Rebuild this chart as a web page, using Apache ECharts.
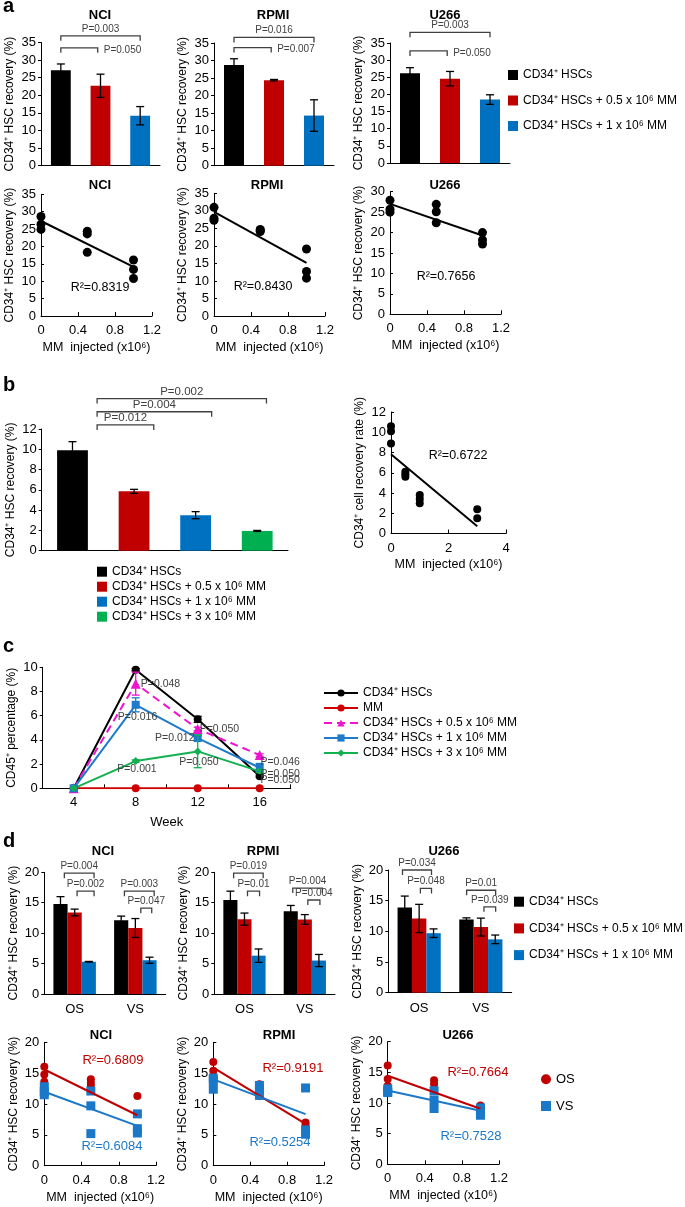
<!DOCTYPE html>
<html>
<head>
<meta charset="utf-8">
<script src="https://cdn.jsdelivr.net/npm/echarts@6/dist/echarts.min.js"></script>
<style>
html, body { margin: 0; padding: 0; background: #fff; }
#chart { width: 685px; height: 1207px; }
</style>
</head>
<body>
<div id="chart"></div>
<script>
// ---- data ----
const groupNames = ['CD34⁺ HSCs', 'CD34⁺ HSCs + 0.5 x 10⁶ MM', 'CD34⁺ HSCs + 1 x 10⁶ MM', 'CD34⁺ HSCs + 3 x 10⁶ MM']
const groupColors = ['#000000', '#C00000', '#0070C0', '#00B050']
const cellLines = ['NCI', 'RPMI', 'U266']

// a: bar means / errors per cell line
const aMeans = [[27.1, 22.7, 14.2], [28.7, 24.4, 14.3], [26.2, 24.6, 18.5]]
const aErrors = [[1.8, 3.3, 2.6], [1.8, 0.2, 4.5], [1.6, 2.1, 1.4]]
// [from, to, level, text, side]
const aBrackets = [
  [[0, 2, 36.9, 'P=0.003', 'up'], [0, 0.93, 33.5, 'P=0.050', 'right']],
  [[0, 2, 36.6, 'P=0.016', 'up'], [0, 0.93, 33.7, 'P=0.007', 'right']],
  [[0, 2, 38.1, 'P=0.003', 'up'], [0, 0.93, 32.7, 'P=0.050', 'right']]
]
// a: scatter
const aDoses = [0, 0, 0, 0.5, 0.5, 0.5, 1, 1, 1]
const aRecovery = [
  [28.6, 26.4, 24.9, 24.4, 23.6, 18.3, 16.1, 13.4, 10.8],
  [31.0, 27.9, 27.3, 24.7, 24.4, 24.1, 19.1, 12.7, 10.8],
  [27.9, 25.7, 25.0, 26.9, 25.1, 22.4, 20.0, 18.2, 17.2]
]
const aR2 = ['R²=0.8319', 'R²=0.8430', 'R²=0.7656']

// b
const bMeans = [9.9, 5.85, 3.5, 1.95]
const bErrors = [0.85, 0.2, 0.35, 0.05]
const bBrackets = [[0.4, 1.32, 12.4, 'P=0.012', 'up'], [0.4, 2.26, 13.7, 'P=0.004', 'up'], [0.4, 3.15, 15.0, 'P=0.002', 'up']]
const bDoses = [0, 0, 0, 0.5, 0.5, 0.5, 1, 1, 1, 3, 3]
const bRate = [10.6, 10.1, 8.9, 6.1, 5.85, 5.6, 3.8, 3.4, 3.0, 2.4, 1.5]
const bR2 = 'R²=0.6722'

// c
const weeks = ['4', '8', '12', '16']
const cNames = ['CD34⁺ HSCs', 'MM', 'CD34⁺ HSCs + 0.5 x 10⁶ MM', 'CD34⁺ HSCs + 1 x 10⁶ MM', 'CD34⁺ HSCs + 3 x 10⁶ MM']
const cColors = ['#000000', '#D00000', '#F013D0', '#1E7BCB', '#13B050']
const cSymbols = ['circle', 'circle', 'triangle', 'rect', 'diamond']
const cValues = [
  [0, 9.8, 5.7, 1.0],
  [0, 0, 0, 0],
  [0, 8.65, 4.9, 2.75],
  [0, 6.9, 4.15, 1.7],
  [0, 2.25, 3.05, 1.4]
]
const cErrors = [
  [0, 0.1, 0.25, 0.1],
  [0, 0, 0, 0],
  [0, 0.95, 0.15, 0.1],
  [0, 0.58, 0.2, 0.35],
  [0, 0.1, 1.35, 0.1]
]
// [week position, level, text]
const cNotes = [
  [1.40, 8.62, 'P=0.048'], [1.03, 5.89, 'P=0.016'], [2.35, 4.9, 'P=0.050'], [1.63, 4.16, 'P=0.012'],
  [3.33, 2.17, 'P=0.046'], [3.33, 1.18, 'P=0.050'], [1.02, 1.6, 'P=0.001'], [2.02, 2.17, 'P=0.050'],
  [3.33, 0.7, 'P=0.050']
]

// d
const sites = ['OS', 'VS']
// dMeans[cell][group] -> [OS, VS]
const dMeans = [
  [[14.8, 12.1], [13.4, 10.85], [5.3, 5.55]],
  [[15.45, 13.6], [12.3, 12.25], [6.3, 5.5]],
  [[13.9, 11.95], [12.1, 10.7], [9.7, 8.7]]
]
const dErrors = [
  [[1.2, 0.7], [0.55, 1.55], [0.05, 0.5]],
  [[1.45, 0.95], [1.0, 0.8], [1.1, 1.0]],
  [[1.85, 0.25], [2.3, 1.45], [0.7, 0.7]]
]
const dBrackets = [
  [[-0.17, 0.32, 19.85, 'P=0.004', 'up'], [0.04, 0.32, 16.9, 'P=0.002', 'up'], [0.82, 1.31, 16.9, 'P=0.003', 'up'], [1.09, 1.27, 14.1, 'P=0.047', 'up']],
  [[-0.18, 0.31, 19.85, 'P=0.019', 'up'], [0.05, 0.25, 16.9, 'P=0.01', 'up'], [0.8, 1.29, 17.4, 'P=0.004', 'up'], [1.05, 1.25, 15.45, 'P=0.004', 'up']],
  [[-0.27, 0.2, 20.0, 'P=0.034', 'up'], [0.02, 0.2, 17.0, 'P=0.048', 'up'], [0.77, 1.24, 16.7, 'P=0.01', 'up'], [1.05, 1.24, 14.0, 'P=0.039', 'up']]
]
const dDoses = [0, 0, 0, 0.5, 0.5, 0.5, 1, 1, 1]
const dOS = [
  [16.05, 14.8, 13.6, 14.0, 13.4, 12.9, 11.3, 5.6, 5.3],
  [16.8, 15.4, 14.1, 13.2, 12.3, 11.3, 7.0, 6.6, 5.4],
  [16.1, 13.9, 12.8, 13.7, 13.1, 9.6, 9.6, 8.8, 8.2]
]
const dVS = [
  [12.8, 12.0, 11.5, 12.1, 9.7, 5.2, 8.4, 6.0, 5.3],
  [14.2, 13.8, 12.4, 13.0, 12.3, 11.4, 12.6, 5.8, 5.1],
  [12.3, 11.9, 11.7, 12.0, 10.5, 9.1, 9.2, 8.8, 8.0]
]
const dR2OS = ['R²=0.6809', 'R²=0.9191', 'R²=0.7664']
const dR2VS = ['R²=0.6084', 'R²=0.5254', 'R²=0.7528']
const osColor = '#C00000'
const vsColor = '#1B78C8'

// ---- helpers ----
const font = '"Liberation Sans", Arial, sans-serif'
const ink = '#000'
const noteInk = '#404040'
const grids = [], xAxes = [], yAxes = [], series = [], graphics = []

function addGrid(rect, xAxis, yAxis) {
  const i = grids.length
  grids.push({ left: rect[0], top: rect[1], width: rect[2], height: rect[3] })
  xAxes.push(Object.assign({ gridIndex: i }, xAxis))
  yAxes.push(Object.assign({ gridIndex: i }, yAxis))
  return i
}

function yValue(min, max, interval, name, inside) {
  return {
    type: 'value', min: min, max: max, interval: interval,
    name: name, nameLocation: 'middle', nameGap: 25,
    nameTextStyle: { fontSize: 12, color: ink },
    axisLine: { show: true, lineStyle: { color: ink, width: 1 } },
    axisTick: { show: true, inside: !!inside, length: 3, lineStyle: { color: ink } },
    axisLabel: { fontSize: 13, color: ink, margin: 5 },
    splitLine: { show: false }
  }
}

function xDose(max, interval) {
  return {
    type: 'value', min: 0, max: max, interval: interval,
    name: 'MM  injected (x10⁶)', nameLocation: 'middle', nameGap: 25,
    nameTextStyle: { fontSize: 12.5, color: ink },
    axisLine: { show: true, lineStyle: { color: ink, width: 1 } },
    axisTick: { show: true, inside: true, length: 4, lineStyle: { color: ink } },
    axisLabel: { fontSize: 13, color: ink, margin: 8 },
    splitLine: { show: false }
  }
}

function xCat(data, showLabels) {
  return {
    type: 'category', data: data,
    axisLine: { show: true, lineStyle: { color: ink, width: 1 } },
    axisTick: { show: false },
    axisLabel: { show: showLabels, fontSize: 13, color: ink, margin: 9 }
  }
}

// x pixel for a fractional category position
function catX(api, c) {
  const r = Math.round(c)
  return api.coord([r, 0])[0] + (c - r) * api.size([1, 0])[0]
}

function errorSeries(g, means, errs, offset, color) {
  return {
    type: 'custom', xAxisIndex: g, yAxisIndex: g, silent: true, z: 5,
    data: means.map((v, i) => [i, v, errs[i]]),
    renderItem(params, api) {
      const i = api.value(0), v = api.value(1), e = api.value(2)
      if (!e) return null
      const x = catX(api, i + offset)
      const top = api.coord([i, v + e])[1]
      const bot = api.coord([i, v - e])[1]
      const st = { stroke: color, lineWidth: 1.3 }
      return {
        type: 'group', children: [
          { type: 'line', shape: { x1: x, y1: top, x2: x, y2: bot }, style: st },
          { type: 'line', shape: { x1: x - 4, y1: top, x2: x + 4, y2: top }, style: st },
          { type: 'line', shape: { x1: x - 4, y1: bot, x2: x + 4, y2: bot }, style: st }
        ]
      }
    }
  }
}

function bracketSeries(g, list, size) {
  return {
    type: 'custom', xAxisIndex: g, yAxisIndex: g, silent: true, clip: false, z: 6,
    data: list.map(b => [Math.round(b[0]), b[2]]),
    renderItem(params, api) {
      const b = list[params.dataIndex]
      const x1 = catX(api, b[0]), x2 = catX(api, b[1])
      const y = api.coord([0, b[2]])[1]
      const right = b[4] === 'right'
      return {
        type: 'group', children: [
          { type: 'polyline', shape: { points: [[x1, y + 5], [x1, y], [x2, y], [x2, y + 5]] },
            style: { stroke: noteInk, lineWidth: 1.3, fill: 'none' } },
          { type: 'text', x: right ? x2 + 6 : (x1 + x2) / 2, y: right ? y + 2 : y - 7,
            style: { text: b[3], fill: noteInk, font: size + 'px ' + font,
              align: right ? 'left' : 'center', textAlign: right ? 'left' : 'center',
              verticalAlign: 'middle', textVerticalAlign: 'middle' } }
        ]
      }
    }
  }
}

function noteSeries(g, list, size) {
  return {
    type: 'custom', xAxisIndex: g, yAxisIndex: g, silent: true, clip: false, z: 7,
    data: list.map(n => [Math.round(n[0]), n[1]]),
    renderItem(params, api) {
      const n = list[params.dataIndex]
      return {
        type: 'text', x: catX(api, n[0]), y: api.coord([0, n[1]])[1],
        style: { text: n[2], fill: noteInk, font: size + 'px ' + font,
          align: 'center', textAlign: 'center', verticalAlign: 'middle', textVerticalAlign: 'middle' }
      }
    }
  }
}

function fitLine(xs, ys) {
  const n = xs.length
  const mx = xs.reduce((a, b) => a + b, 0) / n
  const my = ys.reduce((a, b) => a + b, 0) / n
  let sxy = 0, sxx = 0
  xs.forEach((x, i) => { sxy += (x - mx) * (ys[i] - my); sxx += (x - mx) * (x - mx) })
  const k = sxy / sxx
  const x1 = Math.max.apply(null, xs)
  return [[0, my - k * mx], [x1, my + k * (x1 - mx)]]
}

function text(str, x, y, opts) {
  opts = opts || {}
  graphics.push({
    type: 'text', x: x, y: y, silent: true,
    style: {
      text: str, fill: opts.color || ink,
      font: (opts.bold ? 'bold ' : '') + (opts.size || 13) + 'px ' + font,
      align: opts.align || 'center', textAlign: opts.align || 'center',
      verticalAlign: 'middle', textVerticalAlign: 'middle'
    }
  })
}

// ---- panel a ----
const aBarRects = [[41, 42.5, 119, 123.2], [214, 43, 120, 122.7], [390, 43, 120, 120]]
const aTitleX = [100, 273, 445]
cellLines.forEach((line, k) => {
  const g = addGrid(aBarRects[k], xCat(groupNames.slice(0, 3), false), yValue(0, 35, 5, 'CD34⁺ HSC recovery (%)'))
  for (let s = 0; s < 3; s++) {
    series.push({
      type: 'bar', name: groupNames[s], xAxisIndex: g, yAxisIndex: g,
      barWidth: '50%', barGap: '-100%',
      data: aMeans[k].map((v, i) => (i === s ? v : '-')),
      itemStyle: { color: groupColors[s] }
    })
  }
  series.push(errorSeries(g, aMeans[k], aErrors[k], 0, ink))
  series.push(bracketSeries(g, aBrackets[k], 10))
  text(line, aTitleX[k], 15, { bold: true })
})

const aScRects = [[41, 194.3, 111, 121.7], [214, 193.3, 111, 122.7], [390, 191.7, 111, 122.6]]
const aScMax = [35, 35, 30]
const aScTitleX = [100, 267, 445]
const aR2Pos = [[100, 288], [263, 287], [446, 277]]
cellLines.forEach((line, k) => {
  const g = addGrid(aScRects[k], xDose(1.2, 0.4), yValue(0, aScMax[k], 5, 'CD34⁺ HSC recovery (%)', true))
  series.push({
    type: 'scatter', xAxisIndex: g, yAxisIndex: g, symbol: 'circle', symbolSize: 9,
    itemStyle: { color: ink, opacity: 1 }, data: aDoses.map((x, i) => [x, aRecovery[k][i]])
  })
  series.push({
    type: 'line', xAxisIndex: g, yAxisIndex: g, symbol: 'none', silent: true, z: 3,
    lineStyle: { color: ink, width: 2 }, data: fitLine(aDoses, aRecovery[k])
  })
  text(line, aScTitleX[k], 185, { bold: true })
  text(aR2[k], aR2Pos[k][0], aR2Pos[k][1], { size: 12.5 })
})

// ---- panel b ----
const gb = addGrid([41.7, 429, 246.3, 121.7], xCat(groupNames, false), yValue(0, 12, 2, 'CD34⁺ HSC recovery (%)'))
for (let s = 0; s < 4; s++) {
  series.push({
    type: 'bar', name: groupNames[s], xAxisIndex: gb, yAxisIndex: gb,
    barWidth: '50%', barGap: '-100%',
    data: bMeans.map((v, i) => (i === s ? v : '-')),
    itemStyle: { color: groupColors[s] }
  })
}
series.push(errorSeries(gb, bMeans, bErrors, 0, ink))
series.push(bracketSeries(gb, bBrackets, 11.5))

const gbs = addGrid([391, 412, 115, 121.5], xDose(4, 2), yValue(0, 12, 2, 'CD34⁺ cell recovery rate (%)', true))
series.push({
  type: 'scatter', xAxisIndex: gbs, yAxisIndex: gbs, symbol: 'circle', symbolSize: 8,
  itemStyle: { color: ink, opacity: 1 }, data: bDoses.map((x, i) => [x, bRate[i]])
})
series.push({
  type: 'line', xAxisIndex: gbs, yAxisIndex: gbs, symbol: 'none', silent: true, z: 3,
  lineStyle: { color: ink, width: 2 }, data: fitLine(bDoses, bRate)
})
text(bR2, 458, 456, { size: 12.5 })

// ---- panel c ----
const cx = xCat(weeks, true)
cx.axisTick = { show: true, inside: true, length: 4, lineStyle: { color: ink } }
cx.axisLabel.margin = 8
cx.name = 'Week'
cx.nameLocation = 'middle'
cx.nameGap = 28
cx.nameTextStyle = { fontSize: 13, color: ink }
const gc = addGrid([42.7, 667.3, 248, 121], cx, yValue(0, 10, 2, 'CD45⁺ percentage (%)'))
cNames.forEach((name, s) => {
  series.push({
    type: 'line', name: 'c:' + name, xAxisIndex: gc, yAxisIndex: gc,
    symbol: cSymbols[s], symbolSize: s === 2 ? 10 : 8,
    itemStyle: { color: cColors[s], opacity: 1 },
    lineStyle: { color: cColors[s], width: 2, type: s === 2 ? [8, 5] : 'solid' },
    data: cValues[s]
  })
  series.push(errorSeries(gc, cValues[s], cErrors[s], 0, cColors[s]))
})
series.push(noteSeries(gc, cNotes, 10.5))

// ---- panel d ----
const dBarRects = [[44.3, 872.3, 121.4, 121.7], [214.3, 872.3, 120.7, 121.7], [388.3, 870, 123.4, 122.7]]
const dTitleX = [103, 263, 444]
const dOffsets = [-0.2333, 0, 0.2333]
cellLines.forEach((line, k) => {
  const g = addGrid(dBarRects[k], xCat(sites, true), yValue(0, 20, 5, 'CD34⁺ HSC recovery (%)'))
  for (let s = 0; s < 3; s++) {
    series.push({
      type: 'bar', name: groupNames[s], xAxisIndex: g, yAxisIndex: g,
      barGap: 0, barCategoryGap: '30%',
      data: dMeans[k][s], itemStyle: { color: groupColors[s] }
    })
    series.push(errorSeries(g, dMeans[k][s], dErrors[k][s], dOffsets[s], ink))
  }
  series.push(bracketSeries(g, dBrackets[k], 10))
  text(line, dTitleX[k], 851.7, { bold: true })
})

const dScRects = [[44.3, 1042.3, 111.7, 123.4], [213.3, 1042.3, 110.7, 123.4], [387.7, 1041.7, 111.3, 122.6]]
const dScTitleX = [101, 279, 458]
const dR2OSPos = [[113, 1060], [293, 1068], [478, 1072]]
const dR2VSPos = [[112, 1146], [280, 1142], [471, 1136]]
cellLines.forEach((line, k) => {
  const g = addGrid(dScRects[k], xDose(1.2, 0.4), yValue(0, 20, 5, 'CD34⁺ HSC recovery (%)', true))
  series.push({
    type: 'scatter', name: 'OS', xAxisIndex: g, yAxisIndex: g, symbol: 'circle', symbolSize: 8, z: 2,
    itemStyle: { color: osColor, opacity: 1 }, data: dDoses.map((x, i) => [x, dOS[k][i]])
  })
  series.push({
    type: 'scatter', name: 'VS', xAxisIndex: g, yAxisIndex: g, symbol: 'rect', symbolSize: 9, z: 2,
    itemStyle: { color: vsColor, opacity: 1 }, data: dDoses.map((x, i) => [x, dVS[k][i]])
  })
  series.push({
    type: 'line', xAxisIndex: g, yAxisIndex: g, symbol: 'none', silent: true, z: 3,
    lineStyle: { color: osColor, width: 2 }, data: fitLine(dDoses, dOS[k])
  })
  series.push({
    type: 'line', xAxisIndex: g, yAxisIndex: g, symbol: 'none', silent: true, z: 3,
    lineStyle: { color: vsColor, width: 2 }, data: fitLine(dDoses, dVS[k])
  })
  text(line, dScTitleX[k], 1035.7, { bold: true })
  text(dR2OS[k], dR2OSPos[k][0], dR2OSPos[k][1], { size: 13, color: osColor })
  text(dR2VS[k], dR2VSPos[k][0], dR2VSPos[k][1], { size: 13, color: vsColor })
})

// panel letters
text('a', 3, 6, { bold: true, size: 20, align: 'left' })
text('b', 3, 385, { bold: true, size: 20, align: 'left' })
text('c', 3, 646, { bold: true, size: 20, align: 'left' })
text('d', 3, 841, { bold: true, size: 20, align: 'left' })

const legendBase = { orient: 'vertical', selectedMode: false, padding: 0, itemWidth: 10, itemHeight: 10,
  textStyle: { fontSize: 12, color: ink, lineHeight: 14 } }

const option = {
  animation: false,
  backgroundColor: '#fff',
  textStyle: { fontFamily: font },
  grid: grids,
  xAxis: xAxes,
  yAxis: yAxes,
  legend: [
    Object.assign({}, legendBase, { data: groupNames.slice(0, 3), icon: 'rect', left: 508, top: 68, itemGap: 11.5 }),
    Object.assign({}, legendBase, { data: groupNames, icon: 'rect', left: 97, top: 564.7, itemGap: 1 }),
    Object.assign({}, legendBase, { data: cNames.map(n => 'c:' + n), left: 323, top: 686, itemGap: 1,
      itemWidth: 34, itemHeight: 9, formatter: n => n.slice(2) }),
    Object.assign({}, legendBase, { data: groupNames.slice(0, 3), icon: 'rect', left: 514, top: 894.7, itemGap: 12.7 }),
    Object.assign({}, legendBase, { data: ['OS', 'VS'], left: 541, top: 1072.3, itemGap: 12.7,
      textStyle: { fontSize: 13, color: ink, lineHeight: 14 } })
  ],
  graphic: graphics,
  series: series
}

const myChart = echarts.init(document.getElementById('chart'))
myChart.setOption(option)
</script>
</body>
</html>
